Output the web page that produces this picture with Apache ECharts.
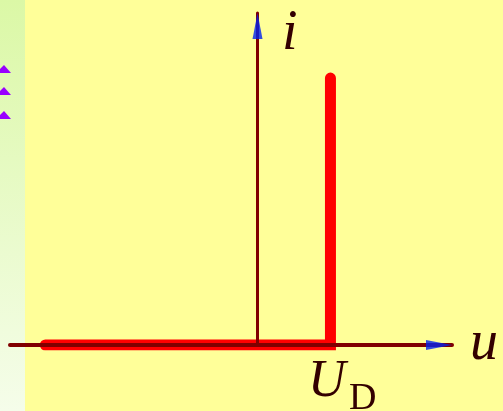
<!DOCTYPE html>
<html>
<head>
<meta charset="utf-8">
<script src="https://cdn.jsdelivr.net/npm/echarts@6/dist/echarts.min.js"></script>
<style>
  html, body { margin: 0; padding: 0; background: #FFFF99; }
  #chart { width: 503px; height: 411px; }
</style>
</head>
<body>
<div id="chart"></div>
<script>
// ideal diode i-u curve: zero current until U_D, then vertical
var uRange = [-5.6, 4.4];
var iRange = [0, 10];
var curveU = [-4.8, 1.65, 1.65];
var curveI = [0, 0, 8.04];
var triangleRows = [69, 91, 115];

var mychart = echarts.init(document.getElementById('chart'));

var curve = [];
for (var k = 0; k < curveU.length; k++) {
    curve.push([curveU[k], curveI[k]]);
}

var tris = triangleRows.map(function (y) {
    return {
        type: 'polygon',
        shape: { points: [[-4, y + 4], [4, y - 4], [11, y + 4]] },
        style: { fill: '#9900FF' },
        z: 10
    };
});

var textColor = '#330000';

var option = {
    backgroundColor: '#FFFF99',
    animation: false,
    grid: { left: 10, right: 51, top: 13, bottom: 66 },
    xAxis: {
        type: 'value',
        min: uRange[0],
        max: uRange[1],
        z: 5,
        axisLine: { show: true, onZero: true, lineStyle: { color: '#800000', width: 4 } },
        axisTick: { show: false },
        axisLabel: { show: false },
        splitLine: { show: false }
    },
    yAxis: {
        type: 'value',
        min: iRange[0],
        max: iRange[1],
        z: 5,
        axisLine: { show: true, onZero: true, lineStyle: { color: '#800000', width: 3 } },
        axisTick: { show: false },
        axisLabel: { show: false },
        splitLine: { show: false }
    },
    graphic: [
        {
            type: 'rect',
            shape: { x: 0, y: 0, width: 25, height: 411 },
            style: {
                fill: new echarts.graphic.LinearGradient(0, 0, 0, 1, [
                    { offset: 0, color: '#DBF8A6' },
                    { offset: 1, color: '#F5FDEA' }
                ])
            },
            z: -1
        },
        {
            type: 'text', left: 282, top: 6, z: 10,
            style: { text: 'i', font: 'italic 56px "Liberation Serif"', fill: textColor }
        },
        {
            type: 'text', left: 470, top: 316, z: 10,
            style: { text: 'u', font: 'italic 56px "Liberation Serif"', fill: textColor }
        },
        {
            type: 'text', left: 308, top: 356, z: 10,
            style: { text: 'U', font: 'italic 52px "Liberation Serif"', fill: textColor }
        },
        {
            type: 'text', left: 349, top: 380, z: 10,
            style: { text: 'D', font: '38px "Liberation Serif"', fill: textColor }
        }
    ].concat(tris),
    series: [
        {
            type: 'line',
            data: curve,
            symbol: 'none',
            z: 2,
            lineStyle: { color: '#FF0000', width: 11, cap: 'round', join: 'miter' }
        },
        {
            type: 'scatter',
            data: [[uRange[1], 0]],
            symbol: 'triangle',
            symbolSize: [10, 26],
            symbolRotate: -90,
            symbolOffset: [-13, 0],
            itemStyle: { color: '#0022EE' },
            z: 10,
            silent: true
        },
        {
            type: 'scatter',
            data: [[0, iRange[1]]],
            symbol: 'triangle',
            symbolSize: [10, 26],
            symbolOffset: [0, 13],
            itemStyle: { color: '#0022EE' },
            z: 10,
            silent: true
        }
    ]
};
mychart.setOption(option);
</script>
</body>
</html>
